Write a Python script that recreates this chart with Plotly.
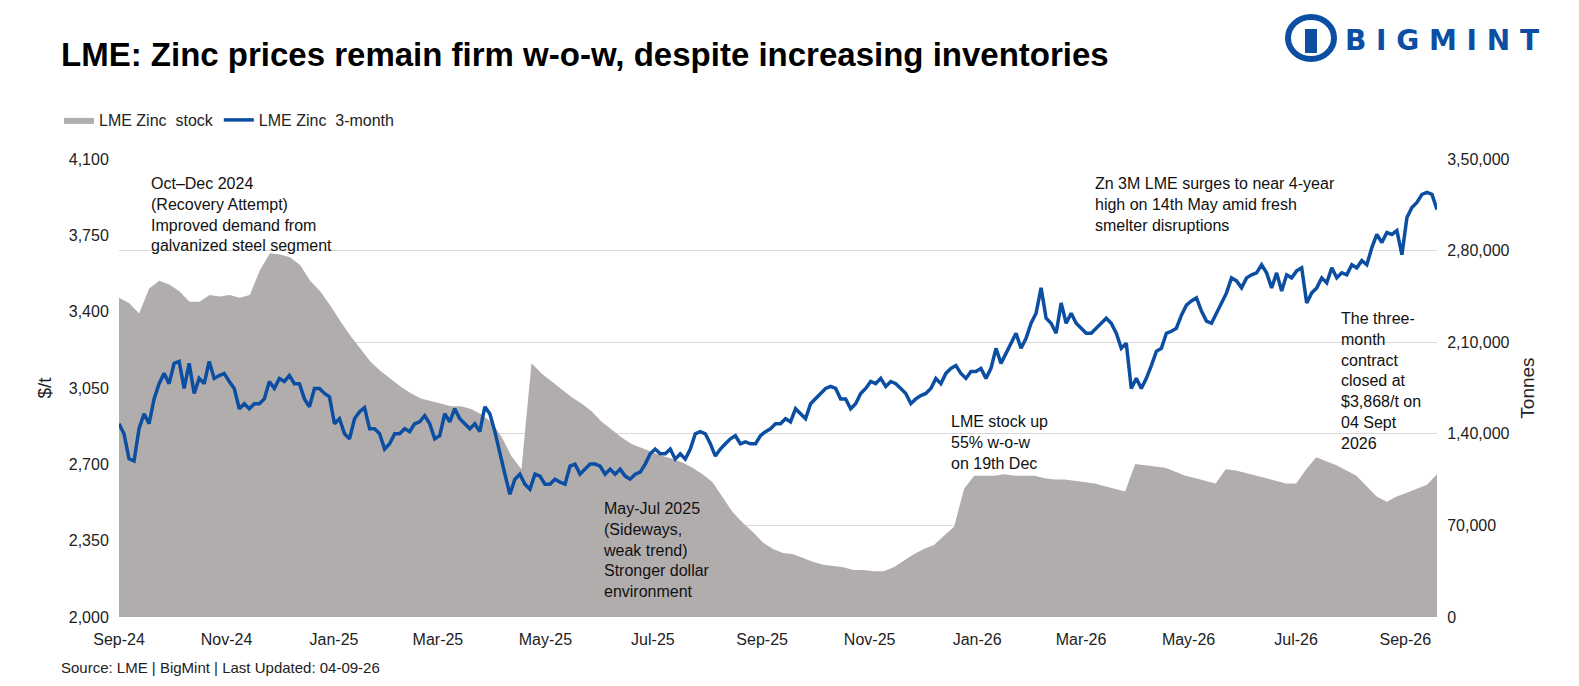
import pandas as pd
import plotly.graph_objects as go

# LME Zinc 3-month, $/t (roughly every 3 days)
zinc_3m = [2886, 2840, 2725, 2715, 2863, 2932, 2886, 3000, 3070, 3117, 3070, 3163, 3172, 3048, 3163,
           3025, 3094, 3070, 3172, 3094, 3107, 3117, 3080, 3048, 2955, 2978, 2955, 2978, 2978, 3000,
           3080, 3048, 3094, 3080, 3107, 3070, 3070, 3000, 2964, 3048, 3048, 3025, 3010, 2886, 2909,
           2840, 2817, 2909, 2941, 2960, 2863, 2863, 2840, 2770, 2794, 2840, 2840, 2863, 2850, 2886,
           2895, 2923, 2886, 2817, 2831, 2932, 2895, 2955, 2909, 2886, 2863, 2886, 2850, 2964, 2932,
           2850, 2748, 2655, 2563, 2632, 2655, 2609, 2586, 2655, 2646, 2609, 2609, 2632, 2618, 2609,
           2692, 2701, 2655, 2678, 2701, 2701, 2692, 2655, 2678, 2655, 2678, 2646, 2632, 2655, 2664,
           2701, 2748, 2770, 2748, 2748, 2770, 2724, 2748, 2724, 2770, 2840, 2850, 2840, 2794, 2738,
           2770, 2794, 2817, 2831, 2794, 2803, 2794, 2794, 2831, 2850, 2863, 2886, 2886, 2909, 2895,
           2955, 2932, 2909, 2978, 3000, 3025, 3048, 3057, 3048, 3000, 3000, 2955, 2978, 3025, 3048,
           3080, 3070, 3094, 3057, 3080, 3070, 3048, 3025, 2978, 3000, 3015, 3025, 3048, 3094, 3070,
           3117, 3140, 3153, 3117, 3094, 3126, 3126, 3140, 3094, 3140, 3232, 3163, 3209, 3255, 3301,
           3232, 3278, 3347, 3393, 3509, 3370, 3347, 3301, 3440, 3347, 3393, 3347, 3324, 3301, 3301,
           3324, 3347, 3370, 3347, 3301, 3232, 3255, 3048, 3094, 3048, 3094, 3153, 3218, 3232, 3301,
           3310, 3324, 3384, 3430, 3449, 3463, 3403, 3357, 3347, 3393, 3440, 3486, 3555, 3541, 3509,
           3555, 3569, 3578, 3615, 3578, 3509, 3578, 3495, 3569, 3555, 3587, 3601, 3440, 3486, 3509,
           3555, 3532, 3601, 3555, 3578, 3569, 3615, 3601, 3634, 3615, 3694, 3754, 3717, 3763, 3754,
           3772, 3661, 3832, 3878, 3901, 3938, 3947, 3938, 3868]

# LME Zinc stock, '000 tonnes (roughly every 6 days)
zinc_stock_k = [244, 240, 232, 251, 257, 254, 249, 241, 241, 246, 245, 246, 244, 246, 265, 278, 277,
                275, 269, 257, 249, 238, 226, 215, 205, 195, 188, 182, 176, 171, 167, 165, 163, 161,
                161, 159, 155, 149, 138, 123, 113, 194, 186, 180, 174, 168, 163, 157, 149, 143, 137,
                132, 129, 126, 123, 121, 118, 114, 109, 103, 92, 80, 72, 65, 57, 52, 49, 48, 45, 42,
                40, 39, 38, 36, 36, 35, 35, 38, 43, 48, 52, 55, 62, 69, 98, 108, 108, 108, 109, 108,
                108, 108, 106, 105, 105, 104, 103, 102, 100, 98, 96, 117, 116, 115, 114, 111, 108,
                106, 104, 102, 113, 112, 110, 108, 106, 104, 102, 102, 113, 122, 119, 116, 112, 108,
                100, 92, 88, 92, 95, 98, 101, 109]

start, end = "2024-09-01", "2026-09-19"
price_dates = pd.date_range(start, end, periods=len(zinc_3m))
stock_dates = pd.date_range(start, end, periods=len(zinc_stock_k))
stock = [v * 1000 for v in zinc_stock_k]

left_ticks = [2000, 2350, 2700, 3050, 3400, 3750, 4100]
right_ticks = [0, 70000, 140000, 210000, 280000, 350000]
right_labels = ["0", "70,000", "1,40,000", "2,10,000", "2,80,000", "3,50,000"]

FONT = "Liberation Sans"
W, H = 1579, 686
L, R, T, B = 111, 1429, 151, 609


def px(x, y):
    # picture pixels -> paper coords of the plot area (offset compensated)
    return (x - 7 - L) / (R - L), (B - (y - 5)) / (B - T)


fig = go.Figure()
# stock on the primary (right) axis so the price line draws on top
fig.add_trace(go.Scatter(x=stock_dates, y=stock, name="LME Zinc  stock", yaxis="y",
                         mode="lines", line=dict(width=0, color="#b1adad"),
                         fill="tozeroy", fillcolor="#b1adad"))
fig.add_trace(go.Scatter(x=price_dates, y=zinc_3m, name="LME Zinc  3-month", yaxis="y2",
                         mode="lines", line=dict(color="#0b4ea2", width=3.5)))

notes = [
    (148, 170, "Oct–Dec 2024<br>(Recovery Attempt)<br>Improved demand from<br>galvanized steel segment"),
    (600, 495, "May-Jul 2025<br>(Sideways,<br>weak trend)<br>Stronger dollar<br>environment"),
    (948, 408, "LME stock up<br>55% w-o-w<br>on 19th Dec"),
    (1092, 170, "Zn 3M LME surges to near 4-year<br>high on 14th May amid fresh<br>smelter disruptions"),
    (1338, 305, "The three-<br>month<br>contract<br>closed at<br>$3,868/t on<br>04 Sept<br>2026"),
]
for x, y, t in notes:
    ax, ay = px(x, y)
    fig.add_annotation(x=ax, y=ay, xref="paper", yref="paper", text=t, showarrow=False,
                       xanchor="left", yanchor="top", align="left",
                       font=dict(size=16, color="#111", family=FONT))

tx, ty = px(58, 52)
fig.add_annotation(x=tx, y=ty, xref="paper", yref="paper", xanchor="left", yanchor="middle",
                   showarrow=False,
                   text="<b>LME: Zinc prices remain firm w-o-w, despite increasing inventories</b>",
                   font=dict(size=33, color="#000", family=FONT))
sx, sy = px(58, 664)
fig.add_annotation(x=sx, y=sy, xref="paper", yref="paper", xanchor="left", yanchor="middle",
                   showarrow=False, text="Source: LME | BigMint | Last Updated: 04-09-26",
                   font=dict(size=15, color="#222", family=FONT))
bx, by = px(1540, 37)
fig.add_annotation(x=bx, y=by, xref="paper", yref="paper", xanchor="right", yanchor="middle",
                   showarrow=False, text="<b>B I G M I N T</b>",
                   font=dict(size=28, color="#0b4ea2", family="DejaVu Sans"))
c0x, c0y = px(1287, 56)
c1x, c1y = px(1333, 14)
fig.add_shape(type="circle", xref="paper", yref="paper", x0=c0x, x1=c1x, y0=c0y, y1=c1y,
              line=dict(color="#0b4ea2", width=6))
r0x, r0y = px(1304, 50)
r1x, r1y = px(1316, 26)
fig.add_shape(type="rect", xref="paper", yref="paper", x0=r0x, x1=r1x, y0=r0y, y1=r1y,
              fillcolor="#0b4ea2", line=dict(width=0))

lx, ly = px(58, 117)
fig.update_layout(
    width=W, height=H,
    margin=dict(l=L, r=W - R, t=T, b=H - B, autoexpand=False),
    paper_bgcolor="white", plot_bgcolor="white",
    font=dict(family=FONT, size=16, color="#222"),
    showlegend=True,
    legend=dict(orientation="h", x=lx, y=ly, xanchor="left", yanchor="middle",
                font=dict(size=16, family=FONT)),
    xaxis=dict(type="date", range=[start, end], tick0="2024-09-01", dtick="M2",
               tickformat="%b-%y", showgrid=False, ticks="outside", ticklen=8,
               tickcolor="rgba(0,0,0,0)", tickfont=dict(size=16), automargin=False),
    yaxis=dict(range=[0, 350000], side="right", tickvals=right_ticks, ticktext=right_labels,
               showgrid=True, gridcolor="#d9d9d9", zeroline=False, automargin=False,
               ticks="outside", ticklen=6, tickcolor="rgba(0,0,0,0)",
               title=dict(text="Tonnes", standoff=12), tickfont=dict(size=16)),
    yaxis2=dict(range=[2000, 4100], overlaying="y", side="left", tickvals=left_ticks,
                tickformat=",", showgrid=False, zeroline=False, automargin=False,
                ticks="outside", ticklen=6, tickcolor="rgba(0,0,0,0)",
                title=dict(text="$/t", standoff=12), tickfont=dict(size=16)),
)

fig.write_html("out.html")
